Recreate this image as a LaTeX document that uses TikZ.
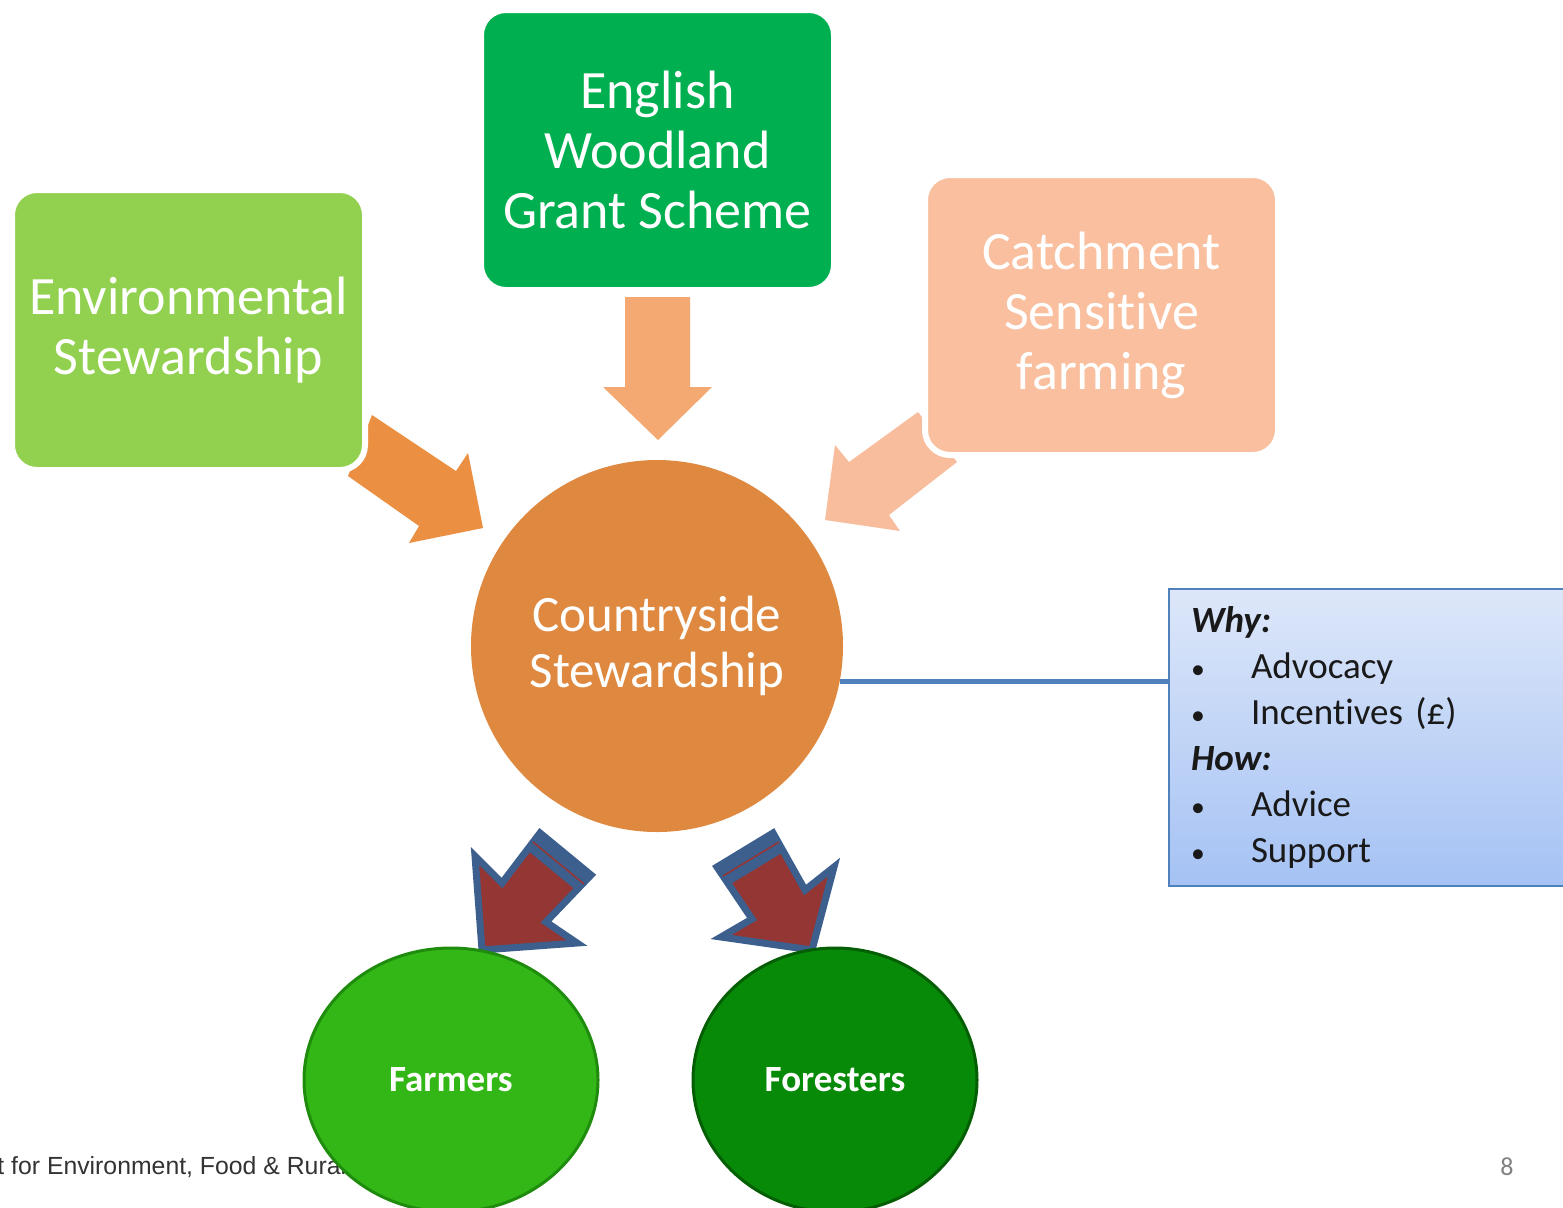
\documentclass[tikz,border=0pt]{standalone}
\usepackage{fontspec}
\setmainfont{Carlito}[Ligatures=NoCommon]
\newfontfamily\footfont{Liberation Sans}
\usetikzlibrary{shapes.geometric}

\definecolor{esgreen}{HTML}{92D050}
\definecolor{ewgreen}{HTML}{00B050}
\definecolor{csfpeach}{HTML}{F9BF9F}
\definecolor{arrorange}{HTML}{EB8F42}
\definecolor{arrdown}{HTML}{F4A872}
\definecolor{arrpeach}{HTML}{F8BD9D}
\definecolor{csorange}{HTML}{DE8840}
\definecolor{linkblue}{HTML}{4F81BD}
\definecolor{boxtop}{HTML}{DDE7F9}
\definecolor{boxbot}{HTML}{A5C2F4}
\definecolor{redfill}{HTML}{943634}
\definecolor{rededge}{HTML}{3C5F8E}
\definecolor{farmgreen}{HTML}{33B716}
\definecolor{farmrim}{HTML}{1F8C0E}
\definecolor{forgreen}{HTML}{078A07}
\definecolor{forrim}{HTML}{045E04}

\newcommand{\bul}{\makebox[30pt][l]{\scalebox{0.75}{\textbullet}}}

\tikzset{
  scheme/.style={rectangle, rounded corners=12.5pt, draw=white, line width=3pt,
    minimum width=176.5pt, minimum height=140pt, text=white, align=center,
    font=\fontsize{27}{30}\selectfont},
  group/.style={ellipse, line width=1.5pt, minimum height=132pt, text=white,
    font=\bfseries\fontsize{18.5}{22}\selectfont},
  redarrow/.style={fill=redfill, draw=rededge, line width=3.5pt, line join=miter},
  link/.style={draw=linkblue, line width=2.5pt}
}

\begin{document}
\begin{tikzpicture}[x=0.5pt,y=-0.5pt]
\useasboundingbox (0,0) rectangle (1563,1207);

% arrows into the centre
\fill[arrorange] (372,415) -- (456,471) -- (468,453) -- (483,528) -- (409,543) -- (419,526) -- (348,476) -- cycle;
\fill[arrdown] (625,297) -- (690,297) -- (690,387) -- (712,387) -- (658,440) -- (603,387) -- (625,387) -- cycle;
\fill[arrpeach] (918,412) -- (957,462) -- (889,515) -- (900,531) -- (825,520) -- (835,445) -- (849,462) -- cycle;

% schemes
\node[scheme, fill=esgreen] (es) at (188.5,330) {Environmental\\Stewardship};
\node[scheme, fill=ewgreen] (ewgs) at (657.5,150) {English\\Woodland\\Grant Scheme};
\node[scheme, fill=csfpeach] (csf) at (1101.5,315) {Catchment\\Sensitive\\farming};

% centre
\node[circle, fill=csorange, minimum size=186pt, text=white, align=center,
  font=\fontsize{25.5}{28}\selectfont] (cs) at (657,646) {Countryside\\Stewardship};

% why / how
\node[anchor=north west, rectangle, draw=linkblue, line width=1pt,
  top color=boxtop, bottom color=boxbot, minimum width=200pt, minimum height=148.5pt,
  text width=178pt, inner xsep=11pt, align=left,
  font=\fontsize{18.5}{23}\selectfont, text=black!90] (aims) at (1168,588) {%
  \textbf{\textit{Why:}}\\
  \bul Advocacy\\
  \bul Incentives (£)\\
  \textbf{\textit{How:}}\\
  \bul Advice\\
  \bul Support};
\draw[link] (cs.-11.5) -- (cs.-11.5 -| aims.west);

% arrows out of the centre
\draw[redarrow] (540,833) -- (591,875) -- (546,922) -- (577,943) -- (482,950) -- (475,856) -- (502,883) -- cycle;
\fill[rededge] (540,833) -- (591,875) -- (577,891) -- (526,849) -- cycle;
\draw[redfill, line width=0.8pt] (533,842) -- (584,884);
\draw[redarrow] (717,867) -- (773,833) -- (805,890) -- (834,867) -- (812,950) -- (721,937) -- (752,919) -- cycle;
\fill[rededge] (717,867) -- (773,833) -- (785,851) -- (729,885) -- cycle;
\draw[redfill, line width=0.8pt] (723,876) -- (779,842);

% footer
\node[anchor=west, inner sep=0pt, font=\footfont\fontsize{12.4}{14}\selectfont, text=black!80] (footer) at (-3,1167) {t for Environment, Food \& Rural};
\node[text=gray, font=\fontsize{13}{15}\selectfont] (page) at (1507,1167) {8};

% who
\node[group, fill=farmgreen, draw=farmrim, minimum width=147pt] (farmers) at (451,1080) {Farmers};
\node[group, fill=forgreen, draw=forrim, minimum width=142pt] (foresters) at (835,1080) {Foresters};

\end{tikzpicture}
\end{document}
